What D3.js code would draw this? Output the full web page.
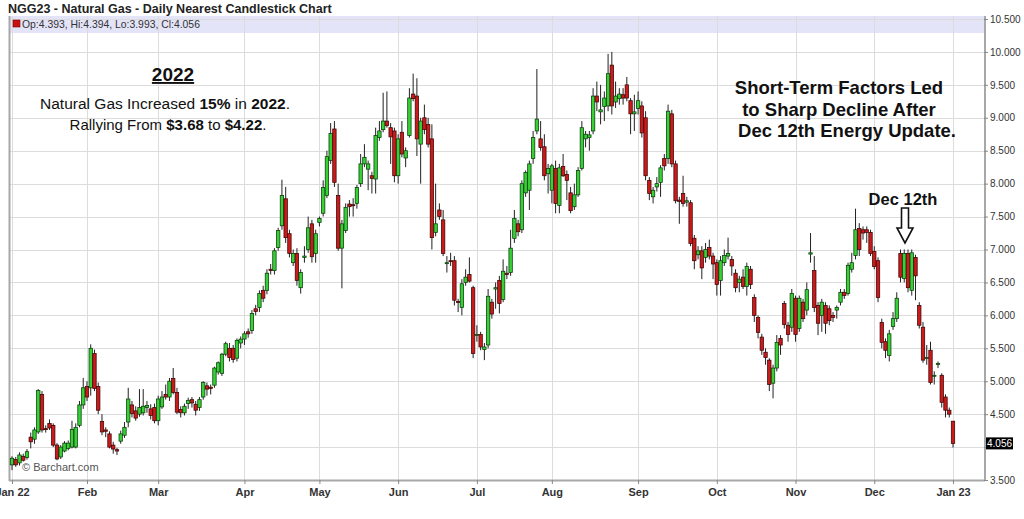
<!DOCTYPE html>
<html><head><meta charset="utf-8">
<script src="https://cdn.jsdelivr.net/npm/d3@7"></script>
<style>
body{margin:0;background:#fff;}
svg{display:block;font-family:"Liberation Sans",Arial,Helvetica,sans-serif;}
</style>
</head><body>
<svg id="c" width="1024" height="519"></svg>
<script>
// ---- categories: trading calendar ----
const startDate = "2022-01-03";
const endDate = "2023-01-03";
const holidays = ["2022-01-17","2022-02-21","2022-04-15","2022-05-30","2022-06-20",
  "2022-07-04","2022-09-05","2022-11-24","2022-12-26","2023-01-02"];
const monthLabels = ["Jan 22","Feb","Mar","Apr","May","Jun","Jul","Aug","Sep","Oct","Nov","Dec","Jan 23"];
const yTicks = [3.5,4,4.5,5,5.5,6,6.5,7,7.5,8,8.5,9,9.5,10,10.5];

// ---- series values [open, high, low, close] per month ----
const jan22 = [
[3.73,3.86,3.65,3.83],[3.81,3.85,3.70,3.73],[3.76,3.92,3.72,3.88],[3.86,3.90,3.78,3.80],
[3.84,3.97,3.81,3.93],[4.15,4.22,3.98,4.08],[4.12,4.30,4.05,4.26],[4.23,4.88,4.20,4.86],
[4.80,4.85,4.22,4.26],[4.28,4.33,4.22,4.27],[4.36,4.42,4.26,4.29],[4.33,4.36,4.00,4.03],
[4.03,4.06,3.80,3.82],[3.85,4.03,3.82,4.00],[3.94,4.09,3.92,4.06],[3.98,4.10,3.95,4.06],
[4.00,4.40,3.98,4.27],[4.00,4.36,3.98,4.30],[4.33,4.70,4.30,4.64],[4.64,5.05,4.58,4.90]];
const feb22 = [
[4.92,5.00,4.70,4.76],[4.90,5.56,4.78,5.50],[5.42,5.48,4.85,4.89],[4.92,4.98,4.50,4.56],
[4.39,4.50,4.18,4.23],[4.26,4.30,4.15,4.24],[4.20,4.24,3.98,4.00],[4.03,4.08,3.90,3.97],
[3.96,3.99,3.88,3.94],[4.09,4.25,4.05,4.20],[4.18,4.38,4.14,4.30],[4.38,4.90,4.30,4.73],
[4.64,4.70,4.45,4.51],[4.55,4.62,4.40,4.44],[4.50,4.88,4.46,4.60],[4.52,4.88,4.48,4.62],
[4.60,4.70,4.52,4.63],[4.58,4.65,4.42,4.48],[4.60,4.66,4.36,4.40]];
const mar22 = [
[4.40,4.78,4.33,4.73],[4.61,4.85,4.58,4.76],[4.80,4.95,4.72,4.76],[4.76,5.05,4.70,5.00],
[5.04,5.20,4.80,4.83],[4.83,4.90,4.50,4.53],[4.57,4.62,4.45,4.52],[4.52,4.66,4.48,4.62],
[4.66,4.75,4.58,4.71],[4.72,4.76,4.60,4.67],[4.65,4.70,4.48,4.56],[4.60,4.76,4.55,4.72],
[4.76,5.00,4.72,4.98],[4.93,4.98,4.78,4.88],[4.91,4.95,4.80,4.89],[4.94,5.22,4.90,5.20],
[5.14,5.30,5.10,5.28],[5.12,5.43,5.08,5.41],[5.41,5.60,5.38,5.57],[5.50,5.58,5.30,5.36],
[5.50,5.55,5.28,5.33],[5.35,5.65,5.30,5.62],[5.58,5.68,5.50,5.64]];
const apr22 = [
[5.64,5.76,5.55,5.72],[5.75,5.80,5.66,5.72],[5.77,6.08,5.72,6.03],[6.10,6.16,6.00,6.06],
[6.12,6.38,6.05,6.33],[6.38,6.45,6.20,6.26],[6.38,6.70,6.32,6.64],[6.70,6.78,6.62,6.68],
[6.68,7.02,6.62,6.98],[7.03,7.33,6.98,7.29],[7.36,8.06,7.30,7.82],[7.77,7.95,7.10,7.18],
[7.24,7.30,6.88,6.94],[6.80,7.00,6.75,6.94],[6.94,7.02,6.45,6.53],[6.42,6.70,6.33,6.65],
[6.88,7.05,6.80,6.90],[7.00,7.50,6.95,7.33],[7.39,7.45,6.80,6.89],[6.94,7.30,6.80,7.24]];
const may22 = [
[7.41,7.50,7.35,7.47],[7.55,8.05,7.50,7.94],[7.82,8.50,7.78,8.41],[8.35,8.92,8.30,8.76],
[8.83,8.95,7.95,8.02],[7.82,8.00,6.98,7.02],[7.02,7.45,6.41,7.39],[7.29,7.70,7.25,7.64],
[7.69,7.75,7.50,7.65],[7.68,7.78,7.50,7.67],[7.70,7.98,7.62,7.94],[8.00,8.45,7.95,8.30],
[8.30,8.60,8.25,8.40],[8.22,8.35,7.90,8.30],[8.12,8.18,7.85,8.08],[8.07,8.85,7.85,8.73],
[8.70,8.95,8.65,8.80],[8.82,9.38,8.78,8.95],[8.95,9.40,8.85,8.88],[8.85,8.92,8.30,8.71],
[8.80,8.85,8.02,8.12]];
const jun22 = [
[8.12,8.75,8.00,8.68],[8.78,8.95,8.40,8.45],[8.39,8.55,8.25,8.50],[8.73,9.45,8.70,9.30],
[9.36,9.67,9.25,9.29],[9.33,9.60,8.42,8.68],[8.60,9.00,8.00,8.95],[9.00,9.20,8.75,8.82],
[8.90,9.00,8.55,8.60],[8.68,8.90,7.00,7.18],[7.26,8.00,7.20,7.39],[7.60,7.70,7.45,7.50],
[7.45,7.60,6.90,6.94],[6.80,6.90,6.65,6.80],[6.83,6.95,6.75,6.82],[6.83,6.90,6.15,6.23],
[6.21,6.25,6.05,6.20],[6.12,6.55,6.00,6.48],[6.50,6.70,6.45,6.58],[6.62,6.88,6.50,6.52],
[6.42,6.45,5.35,5.42]];
const jul22 = [
[5.71,5.85,5.60,5.71],[5.71,5.75,5.47,5.52],[5.48,5.58,5.32,5.52],[5.55,6.40,5.50,6.29],
[6.20,6.25,5.95,6.02],[6.40,6.50,6.10,6.42],[6.53,6.60,6.03,6.18],[6.24,6.85,6.20,6.67],
[6.64,6.75,6.55,6.62],[6.65,7.30,6.60,7.02],[7.17,7.60,7.10,7.47],[7.39,7.45,7.20,7.27],
[7.30,8.05,7.25,8.00],[7.86,8.20,7.80,8.17],[7.90,8.35,7.60,8.30],[8.38,8.80,8.30,8.70],
[8.80,9.74,8.75,8.98],[8.68,8.95,8.50,8.55],[8.56,8.75,8.05,8.12],[8.15,8.30,7.85,8.23]];
const aug22 = [
[7.90,8.30,7.70,8.27],[8.23,8.35,7.55,7.70],[7.67,8.30,7.55,8.24],[8.26,8.45,8.10,8.12],
[8.14,8.20,7.75,8.05],[7.86,7.95,7.55,7.59],[7.65,8.00,7.60,7.83],[7.83,8.25,7.80,8.20],
[8.23,8.95,8.20,8.85],[8.68,8.80,8.55,8.75],[8.70,8.80,8.50,8.74],[8.80,9.45,8.75,9.33],
[9.33,9.55,9.10,9.24],[9.09,9.50,8.90,9.12],[9.17,9.40,8.95,9.30],[9.18,9.97,9.10,9.67],
[9.80,10.00,9.05,9.18],[9.24,9.55,9.15,9.33],[9.29,9.45,9.20,9.36],[9.35,9.45,9.20,9.30],
[9.50,9.62,9.25,9.30],[9.26,9.30,8.75,9.06],[9.06,9.35,8.80,9.09]];
const sep22 = [
[9.14,9.40,9.05,9.26],[9.18,9.25,8.70,8.77],[9.00,9.10,8.05,8.12],[8.05,8.10,7.75,7.85],
[7.80,7.95,7.70,7.90],[7.95,8.10,7.88,8.00],[8.02,8.28,7.80,8.24],[8.38,8.45,8.20,8.27],
[8.38,9.20,8.30,9.10],[9.06,9.12,8.25,8.30],[8.30,8.35,7.70,7.74],[7.75,7.80,7.39,7.73],
[7.85,8.12,7.65,7.70],[7.72,7.80,7.65,7.74],[7.71,7.75,7.05,7.09],[7.17,7.22,6.70,6.83],
[6.92,7.05,6.85,6.98],[6.98,7.05,6.55,6.72],[6.88,7.10,6.80,7.00],[7.03,7.15,6.85,6.90],
[6.90,6.95,6.55,6.78]];
const oct22 = [
[6.80,6.85,6.30,6.47],[6.53,6.90,6.30,6.83],[6.80,7.00,6.75,6.91],[6.90,7.18,6.85,6.94],
[6.85,6.90,6.60,6.75],[6.64,6.70,6.35,6.42],[6.50,6.60,6.35,6.55],[6.58,6.70,6.40,6.44],
[6.44,6.80,6.30,6.74],[6.70,6.75,6.40,6.47],[6.27,6.32,5.90,6.00],[5.97,6.00,5.65,5.74],
[5.67,5.72,5.40,5.47],[5.44,5.50,5.25,5.36],[5.32,5.35,4.85,4.95],[4.97,5.25,4.74,5.20],
[5.20,5.70,5.15,5.59],[5.65,5.70,5.40,5.55],[6.18,6.22,5.80,5.86],[5.85,5.90,5.60,5.71],
[5.82,6.40,5.75,6.33]];
const nov22 = [
[6.26,6.30,5.60,5.71],[5.80,6.30,5.75,6.26],[6.20,6.25,5.90,5.95],[6.08,6.50,6.00,6.39],
[6.93,7.25,6.80,6.95],[6.68,6.90,6.05,6.12],[6.15,6.20,5.70,5.88],[6.00,6.25,5.75,6.20],
[6.15,6.20,5.72,5.88],[6.10,6.15,5.85,5.92],[6.00,6.05,5.90,5.97],[6.08,6.15,5.95,6.12],
[6.20,6.40,6.15,6.35],[6.35,6.40,6.25,6.30],[6.33,6.80,6.30,6.76],[6.70,6.95,6.65,6.80],
[6.91,7.62,6.85,7.30],[7.32,7.40,6.90,7.00],[7.30,7.35,7.15,7.25],[7.30,7.35,7.10,7.26],
[7.26,7.30,6.90,6.94]];
const dec22 = [
[6.97,7.05,6.70,6.74],[6.83,6.88,6.20,6.27],[5.89,5.95,5.50,5.59],[5.60,5.65,5.35,5.47],
[5.39,5.78,5.30,5.72],[5.83,6.05,5.78,5.95],[5.95,6.35,5.90,6.26],[6.94,7.00,6.50,6.58],
[6.56,7.00,6.50,6.94],[6.94,7.00,6.35,6.42],[6.38,7.00,6.30,6.95],[6.88,6.92,6.23,6.60],
[6.15,6.20,5.80,5.85],[5.82,5.90,5.28,5.32],[5.35,5.55,5.25,5.36],[5.47,5.60,4.95,4.98],
[5.08,5.15,4.95,5.09],[5.27,5.30,5.20,5.27],[5.09,5.12,4.60,4.68],[4.76,4.80,4.45,4.56],
[4.56,4.60,4.45,4.50]];
const jan23 = [[4.393,4.394,3.993,4.056]];

// ---- build calendar ----
const dates = [];
{
  const hol = new Set(holidays);
  let d = new Date(startDate + "T00:00:00Z");
  const end = new Date(endDate + "T00:00:00Z");
  while (d <= end) {
    const wd = d.getUTCDay();
    const s = d.toISOString().slice(0,10);
    if (wd !== 0 && wd !== 6 && !hol.has(s)) dates.push(new Date(d));
    d = new Date(d.getTime() + 86400000);
  }
}
const ohlc = [].concat(jan22,feb22,mar22,apr22,may22,jun22,jul22,aug22,sep22,oct22,nov22,dec22,jan23);
const candles = ohlc.map((v,i)=>({i, date: dates[i], o:v[0], h:v[1], l:v[2], c:v[3]}));
const monthStarts = [];
dates.forEach((d,i)=>{ if(i===0 || d.getUTCMonth()!==dates[i-1].getUTCMonth()) monthStarts.push(i); });

const svg = d3.select("#c");
const L = 10, R = 984, T = 16, B = 480;
const x = d3.scaleLinear().domain([0, candles.length-1]).range([12, 953]);
const y = d3.scaleLinear().domain([3.5, 10.5]).range([480, 19]);
const last = candles[candles.length-1];

// header band
svg.append("rect").attr("x",L).attr("y",T).attr("width",R-L).attr("height",17).attr("fill","#e4e4f8");

// gridlines
svg.append("g").selectAll("line").data(yTicks).join("line")
  .attr("x1",L).attr("x2",R).attr("y1",d=>Math.round(y(d))+0.5).attr("y2",d=>Math.round(y(d))+0.5)
  .attr("stroke","#dcdcdc").attr("stroke-width",1);
svg.append("g").selectAll("line").data(monthStarts).join("line")
  .attr("x1",d=>Math.round(x(d))+0.5).attr("x2",d=>Math.round(x(d))+0.5).attr("y1",T).attr("y2",B)
  .attr("stroke","#dcdcdc").attr("stroke-width",1);

// frame
svg.append("line").attr("x1",L-0.5).attr("x2",L-0.5).attr("y1",T).attr("y2",B+1).attr("stroke","#a8a8a8").attr("stroke-width",2);
svg.append("line").attr("x1",L-1).attr("x2",R+1).attr("y1",B+0.5).attr("y2",B+0.5).attr("stroke","#a8a8a8").attr("stroke-width",2);

// header text
svg.append("rect").attr("x",13).attr("y",20).attr("width",7).attr("height",7).attr("fill","#c81010").attr("stroke","#700").attr("stroke-width",0.6);
svg.append("text").attr("x",22).attr("y",27.5).attr("font-size",10.4).attr("fill","#333")
  .text(`Op:${last.o}, Hi:${last.h}, Lo:${last.l}, Cl:${last.c}`);

// title
svg.append("text").attr("x",8).attr("y",13).attr("font-size",12.5).attr("font-weight","bold").attr("fill","#222")
  .text("NGG23 - Natural Gas - Daily Nearest Candlestick Chart");

// watermark
svg.append("text").attr("x",22).attr("y",471).attr("font-size",11).attr("fill","#555").text("\u00A9 Barchart.com");

// candles
const g = svg.append("g");
g.selectAll("line.w").data(candles).join("line").attr("class","w")
  .attr("x1",d=>x(d.i)).attr("x2",d=>x(d.i)).attr("y1",d=>y(d.h)).attr("y2",d=>y(d.l))
  .attr("stroke","#222").attr("stroke-width",1);
const bw = 3.4;
g.selectAll("rect.b").data(candles).join("rect").attr("class","b")
  .attr("x",d=>x(d.i)-bw/2).attr("width",bw)
  .attr("y",d=>Math.min(y(d.o),y(d.c)))
  .attr("height",d=>Math.max(1,Math.abs(y(d.o)-y(d.c))))
  .attr("fill",d=>d.c>=d.o?"#35d135":"#cc1a1a")
  .attr("stroke",d=>d.c>=d.o?"#0b3a0b":"#3a0505").attr("stroke-width",0.75);

// right axis
const ya = svg.append("g").attr("transform",`translate(${R},0)`)
  .call(d3.axisRight(y).tickValues(yTicks).tickFormat(d3.format(".3f")).tickSize(4).tickPadding(2));
ya.select(".domain").attr("stroke","#a8a8a8").attr("stroke-width",2).attr("d",`M1,${T}V${B+1}`);
ya.selectAll(".tick line").attr("stroke","#888");
ya.selectAll(".tick text").attr("font-size",10).attr("fill","#333").attr("font-family","Liberation Sans, Arial, sans-serif")
  .attr("display",d=>Math.abs(y(d)-y(last.c))<10?"none":null);

// bottom axis
const xa = svg.append("g").attr("transform",`translate(0,${B})`)
  .call(d3.axisBottom(x).tickValues(monthStarts).tickFormat((d,k)=>monthLabels[k]).tickSize(4).tickPadding(4));
xa.select(".domain").remove();
xa.selectAll(".tick line").attr("stroke","#888");
xa.selectAll(".tick text").attr("font-size",11).attr("font-weight","bold").attr("fill","#333")
  .attr("font-family","Liberation Sans, Arial, sans-serif");

// last price label
svg.append("rect").attr("x",986).attr("y",y(last.c)-6).attr("width",27).attr("height",12).attr("fill","#000");
svg.append("text").attr("x",987).attr("y",y(last.c)+4).attr("font-size",10).attr("fill","#fff").text(last.c.toFixed(3));

// annotations
svg.append("text").attr("x",173).attr("y",81).attr("text-anchor","middle").attr("font-size",19)
  .attr("font-weight","bold").attr("fill","#111").attr("text-decoration","underline").text("2022");
const t1 = svg.append("text").attr("x",165).attr("y",109).attr("text-anchor","middle").attr("font-size",15.5).attr("fill","#111");
t1.append("tspan").text("Natural Gas Increased ");
t1.append("tspan").attr("font-weight","bold").text("15%");
t1.append("tspan").text(" in ");
t1.append("tspan").attr("font-weight","bold").text("2022");
t1.append("tspan").text(".");
const t2 = svg.append("text").attr("x",168).attr("y",130).attr("text-anchor","middle").attr("font-size",15).attr("fill","#111");
t2.append("tspan").text("Rallying From ");
t2.append("tspan").attr("font-weight","bold").text("$3.68");
t2.append("tspan").text(" to ");
t2.append("tspan").attr("font-weight","bold").text("$4.22");
t2.append("tspan").text(".");

const rightLines = ["Short-Term Factors Led","to Sharp Decline After","Dec 12th Energy Update."];
const rx = [839, 839, 847], ry = [94, 116, 137];
svg.append("g").selectAll("text").data(rightLines).join("text")
  .attr("x",(d,k)=>rx[k]).attr("y",(d,k)=>ry[k]).attr("text-anchor","middle")
  .attr("font-size",18.5).attr("font-weight","bold").attr("fill","#111").text(d=>d);

svg.append("text").attr("x",903).attr("y",205).attr("text-anchor","middle").attr("font-size",16.5)
  .attr("font-weight","bold").attr("fill","#111").text("Dec 12th");
// hollow arrow
svg.append("path").attr("d","M901.5,208 H908.5 V228 H913 L905,243 L897,228 H901.5 Z")
  .attr("fill","#fff").attr("stroke","#111").attr("stroke-width",1.6).attr("stroke-linejoin","miter");
</script>
</body></html>
